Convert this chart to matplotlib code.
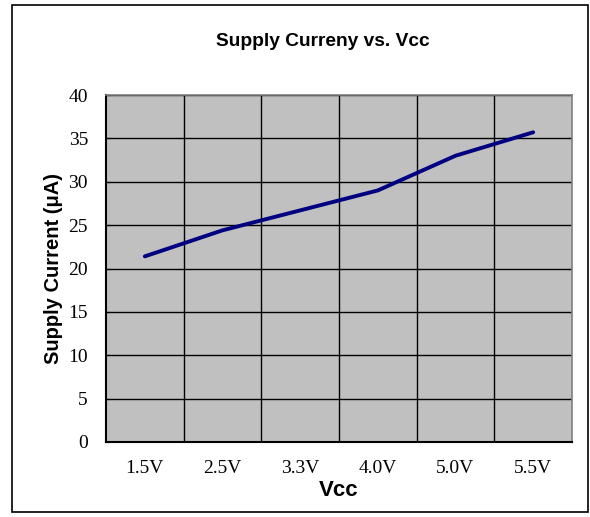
import matplotlib
matplotlib.use('Agg')
import matplotlib.pyplot as plt
from matplotlib.patches import Rectangle
import numpy as np

# data
vcc_labels = ['1.5V', '2.5V', '3.3V', '4.0V', '5.0V', '5.5V']
current_ua = [21.4, 24.4, 26.7, 29.0, 33.0, 35.7]
y_ticks = [0, 5, 10, 15, 20, 25, 30, 35, 40]

fig = plt.figure(figsize=(5.9, 5.17), dpi=100)
fig.patches.append(Rectangle((12 / 590, 5 / 517), 576 / 590, 507 / 517,
                             transform=fig.transFigure, fill=False,
                             edgecolor='black', linewidth=1.2))

ax = fig.add_axes([106 / 590, 1 - 442 / 517, 466 / 590, 347 / 517])
ax.set_facecolor('#c0c0c0')

x = np.arange(len(vcc_labels))
ax.plot(x, current_ua, color='#000080', linewidth=2.8, solid_capstyle='round')

ax.set_xlim(-0.5, len(vcc_labels) - 0.5)
ax.set_ylim(0, 40)
ax.set_xticks(x)
ax.set_xticklabels(vcc_labels, fontfamily='Liberation Serif', fontsize=14)
ax.set_xticks(np.arange(0.5, len(vcc_labels) - 0.5, 1), minor=True)
ax.set_yticks(y_ticks)
ax.set_yticklabels([str(v) for v in y_ticks], fontfamily='Liberation Serif', fontsize=14)

ax.grid(True, axis='y', which='major', color='black', linewidth=1)
ax.grid(True, axis='x', which='minor', color='black', linewidth=1)
ax.set_axisbelow(True)

ax.tick_params(axis='x', which='both', length=0, pad=13)
ax.tick_params(axis='y', direction='in', length=3, pad=13)

for s in ['left', 'bottom']:
    ax.spines[s].set_color('black')
    ax.spines[s].set_linewidth(1.5)
for s in ['top', 'right']:
    ax.spines[s].set_color('#808080')
    ax.spines[s].set_linewidth(1.2)

fig.text(323 / 590, 1 - 42 / 517, 'Supply Curreny vs. Vcc', ha='center', va='center',
         fontfamily='Liberation Sans', fontweight='bold', fontsize=13.8)
ax.set_xlabel('Vcc', fontfamily='Liberation Sans', fontweight='bold', fontsize=16, labelpad=2)
ax.set_ylabel('Supply Current (μA)', fontfamily='Liberation Sans', fontweight='bold',
              fontsize=14.5, labelpad=4)

fig.savefig('out.png', dpi=100)
